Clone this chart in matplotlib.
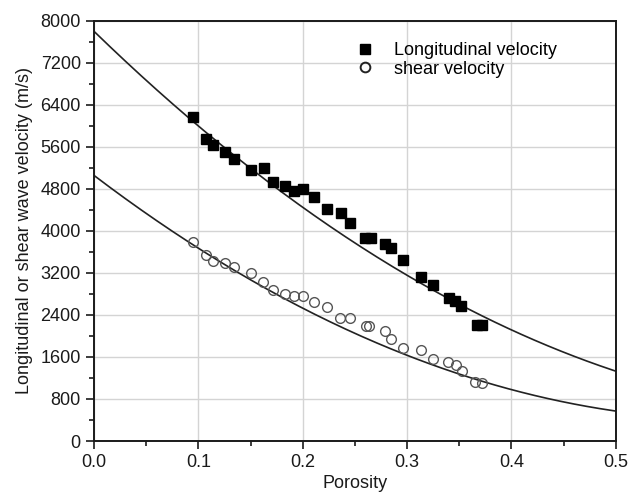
import numpy as np
import matplotlib.pyplot as plt

plt.rcParams['font.family'] = ['Liberation Sans', 'DejaVu Sans']
plt.rcParams['font.size'] = 13

# measured longitudinal velocity
por_p = [0.095, 0.107, 0.114, 0.126, 0.134, 0.150, 0.163, 0.172, 0.183, 0.192,
         0.200, 0.211, 0.223, 0.237, 0.245, 0.260, 0.265, 0.279, 0.285, 0.296,
         0.313, 0.325, 0.340, 0.346, 0.352, 0.367, 0.372]
vp = [6160, 5740, 5630, 5500, 5370, 5160, 5190, 4930, 4845, 4760,
      4795, 4640, 4415, 4340, 4140, 3860, 3860, 3755, 3680, 3440,
      3120, 2965, 2730, 2655, 2570, 2205, 2205]

# measured shear velocity
por_s = [0.095, 0.107, 0.114, 0.126, 0.134, 0.150, 0.162, 0.172, 0.183, 0.192,
         0.200, 0.211, 0.223, 0.236, 0.245, 0.261, 0.264, 0.279, 0.285, 0.296,
         0.313, 0.325, 0.339, 0.347, 0.353, 0.365, 0.372]
vs = [3795, 3545, 3435, 3395, 3305, 3200, 3025, 2870, 2795, 2760,
      2760, 2650, 2550, 2350, 2350, 2185, 2185, 2090, 1950, 1775,
      1740, 1570, 1495, 1445, 1330, 1125, 1095]

# quadratic fit coefficients (c0, c1, c2)
fit_p = [7796, -19280, 12695]
fit_s = [5054, -15070, 12205]

fig = plt.figure(figsize=(6.28, 4.99), dpi=100)
ax = fig.add_axes([0.1497, 0.1162, 0.8307, 0.8425])

phi = np.linspace(0, 0.5, 200)
ax.plot(phi, fit_p[0] + fit_p[1]*phi + fit_p[2]*phi**2, color='#222222', lw=1.2, zorder=2)
ax.plot(phi, fit_s[0] + fit_s[1]*phi + fit_s[2]*phi**2, color='#222222', lw=1.2, zorder=2)

ax.plot(por_p, vp, ls='none', marker='s', ms=6.5, color='black', label='Longitudinal velocity', zorder=3)
ax.plot(por_s, vs, ls='none', marker='o', ms=7, mfc='none', mec='#555555', mew=1.0,
        label='shear velocity', zorder=3)

ax.set_xlim(0, 0.5)
ax.set_ylim(0, 8000)
ax.set_xticks(np.arange(0, 0.51, 0.1))
ax.set_xticks(np.arange(0.05, 0.5, 0.1), minor=True)
ax.set_yticks(np.arange(0, 8001, 800))
ax.set_yticks(np.arange(400, 8000, 800), minor=True)
ax.xaxis.set_major_formatter(plt.FormatStrFormatter('%.1f'))
ax.tick_params(which='major', direction='out', length=6, width=1.2, colors='#1a1a1a', labelsize=13)
ax.tick_params(which='minor', direction='out', length=3.5, width=1.2, colors='#1a1a1a')
ax.grid(True, which='major', color='#d4d4d4', lw=1)
ax.set_axisbelow(True)
for s in ax.spines.values():
    s.set_linewidth(1.4)
    s.set_color('#1a1a1a')

ax.set_xlabel('Porosity', fontsize=13, color='#1a1a1a', labelpad=3)
ax.set_ylabel('Longitudinal or shear wave velocity (m/s)', fontsize=13, color='#1a1a1a', labelpad=5)

leg = ax.legend(loc='upper left', bbox_to_anchor=(0.46, 0.988), frameon=False, fontsize=13,
                handletextpad=0.8, labelspacing=0.1, handlelength=1.6)
leg.legend_handles[1].set_markeredgecolor('#222222')
leg.legend_handles[1].set_markeredgewidth(1.4)

fig.savefig('out.png', dpi=100)
